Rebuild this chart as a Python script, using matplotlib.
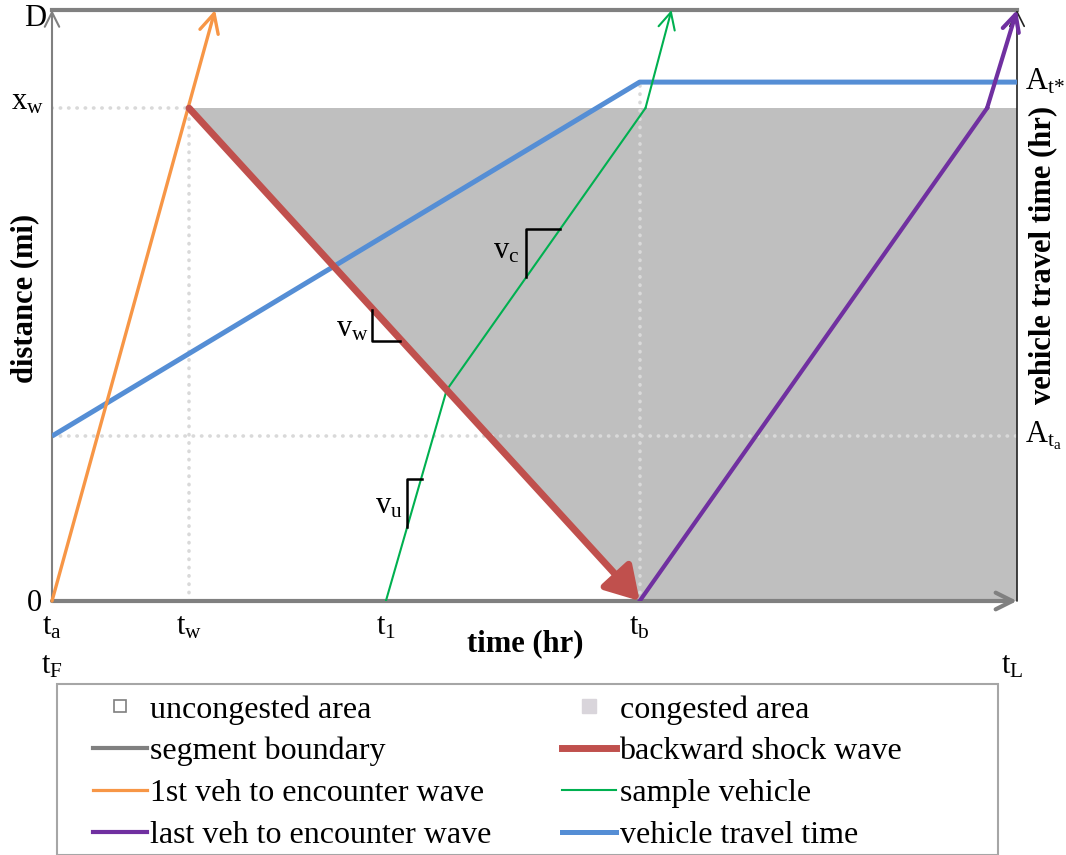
import matplotlib
matplotlib.use('Agg')
import matplotlib.pyplot as plt
from matplotlib.lines import Line2D
from matplotlib.patches import Rectangle

plt.rcParams.update({'font.family': 'Liberation Serif', 'mathtext.fontset': 'custom',
                     'mathtext.rm': 'Liberation Serif', 'mathtext.it': 'Liberation Serif',
                     'mathtext.bf': 'Liberation Serif:bold'})

GRAY = '#808080'; ORG = '#F79646'; RED = '#C0504D'; GRN = '#00B050'
PUR = '#7030A0'; BLU = '#558ED5'; CONG = '#BFBFBF'; DOT = '#D9D9D9'

# key times / distances (t_a = 0, t_L = 10, D = 10)
t_w, t_1, t_b, t_L = 1.42, 3.46, 6.09, 10.0
x_w, D = 8.34, 10.0
A_ta, A_tstar = 2.79, 8.78

# trajectories
first_t = [0.0, 1.69];               first_d = [0.0, 10.0]
sample_t = [3.46, 4.09, 6.15, 6.42]; sample_d = [0.0, 3.57, 8.34, 10.0]
last_t = [6.09, 9.69, 10.0];         last_d = [0.0, 8.34, 10.0]
shock_t = [1.42, 6.09];              shock_d = [8.34, 0.0]
travel_t = [0.0, 6.09, 10.0];        travel_d = [2.79, 8.78, 8.78]
cong_t = [1.42, 10.0, 10.0, 6.09];   cong_d = [8.34, 8.34, 0.0, 0.0]

W, H = 1066, 855
fig = plt.figure(figsize=(W/100, H/100), dpi=100)
ax = fig.add_axes([52/W, 254/H, 965/W, 591/H])
ax.set_xlim(0, 10); ax.set_ylim(0, 10); ax.axis('off')

# congested area
ax.fill(cong_t, cong_d, color=CONG, lw=0, zorder=1)

# dotted guides
dk = dict(color=DOT, ls=(0, (0.1, 2.2)), lw=2.6, dash_capstyle='round', zorder=2)
ax.plot([0, t_w], [x_w, x_w], **dk)
ax.plot([t_w, t_w], [0, x_w], **dk)
ax.plot([t_b, t_b], [0, A_tstar], **dk)
ax.plot([0, t_L], [A_ta, A_ta], **dk)

# segment boundaries
ax.plot([0, 10], [D, D], color=GRAY, lw=3, zorder=3, clip_on=False)
ax.annotate('', xy=(10.0, 0), xytext=(0, 0),
            arrowprops=dict(arrowstyle='->', color=GRAY, lw=3, mutation_scale=30, shrinkA=0, shrinkB=0), zorder=3)
ax.annotate('', xy=(0, 10.0), xytext=(0, 0),
            arrowprops=dict(arrowstyle='->', color=GRAY, lw=1.5, mutation_scale=26, shrinkA=0, shrinkB=0), zorder=3)
ax.annotate('', xy=(10.0, 10.0), xytext=(10.0, 0),
            arrowprops=dict(arrowstyle='->', color='#222222', lw=1.2, mutation_scale=26, shrinkA=0, shrinkB=0), zorder=3)

# travel time line
ax.plot(travel_t, travel_d, color=BLU, lw=3.6, zorder=4, solid_capstyle='butt')

# vehicle trajectories with arrow heads on the last segment
def traj(ts, ds, c, lw, ms):
    if len(ts) > 2:
        ax.plot(ts[:-1], ds[:-1], color=c, lw=lw, zorder=5, solid_joinstyle='miter')
    ax.annotate('', xy=(ts[-1], ds[-1]), xytext=(ts[-2], ds[-2]),
                arrowprops=dict(arrowstyle='->', color=c, lw=lw, mutation_scale=ms, shrinkA=0, shrinkB=0), zorder=5)

traj(first_t, first_d, ORG, 2.4, 34)
traj(sample_t, sample_d, GRN, 1.5, 30)
traj(last_t, last_d, PUR, 3.0, 30)

# backward shock wave
ax.annotate('', xy=(shock_t[1], shock_d[1]), xytext=(shock_t[0], shock_d[0]),
            arrowprops=dict(arrowstyle='-|>,head_length=0.5,head_width=0.3', color=RED, lw=5,
                            mutation_scale=40, shrinkA=0, shrinkB=0), zorder=6)

# slope triangles
sk = dict(color='black', lw=1.8, zorder=7)
ax.plot([4.91, 4.91, 5.26], [5.48, 6.29, 6.29], **sk)
ax.plot([3.32, 3.32, 3.61], [4.92, 4.40, 4.40], **sk)
ax.plot([3.68, 3.68, 3.83], [1.25, 2.06, 2.06], **sk)

fs = 22
tk = dict(fontsize=fs, clip_on=False)
ax.text(4.84, 5.92, r'$\mathrm{v_c}$', ha='right', va='center', **tk)
ax.text(3.28, 4.60, r'$\mathrm{v_w}$', ha='right', va='center', **tk)
ax.text(3.64, 1.60, r'$\mathrm{v_u}$', ha='right', va='center', **tk)

# axis annotations
ax.text(-0.06, 9.85, 'D', ha='right', va='center', **tk)
ax.text(-0.08, 8.45, r'$\mathrm{x_w}$', ha='right', va='center', **tk)
ax.text(-0.1, -0.05, '0', ha='right', va='center', **tk)
for lab, t in [('t_a', 0.0), ('t_w', t_w), ('t_1', t_1), ('t_b', t_b)]:
    ax.text(t, -0.2, r'$\mathrm{%s}$' % lab, ha='center', va='top', **tk)
ax.text(0.0, -0.85, r'$\mathrm{t_F}$', ha='center', va='top', **tk)
ax.text(9.95, -0.85, r'$\mathrm{t_L}$', ha='center', va='top', **tk)
ax.text(4.9, -0.47, 'time (hr)', ha='center', va='top', fontweight='bold', **tk)
ax.text(10.08, A_tstar, r'$\mathrm{A_{t{*}}}$', ha='left', va='center', **tk)
ax.text(10.08, A_ta, r'$\mathrm{A_{t_a}}$', ha='left', va='center', **tk)
fig.text(25/W, 1 - 298/H, 'distance (mi)', rotation=90, ha='center', va='center',
         fontsize=fs, fontweight='bold')
fig.text(1043/W, 1 - 255/H, 'vehicle travel time (hr)', rotation=90, ha='center', va='center',
         fontsize=fs, fontweight='bold')

# legend: frame + two single-column legends
fig.patches.append(Rectangle((57/W, 0), 941/W, 171/H, transform=fig.transFigure,
                             fill=False, ec='#A6A6A6', lw=1.5))
h1 = [Line2D([], [], marker='s', ls='none', mfc='white', mec='#7f7f7f', mew=1.2, ms=9),
      Line2D([], [], color=GRAY, lw=3),
      Line2D([], [], color=ORG, lw=2.3),
      Line2D([], [], color=PUR, lw=3)]
l1 = ['uncongested area', 'segment boundary', '1st veh to encounter wave', 'last veh to encounter wave']
h2 = [Line2D([], [], marker='s', ls='none', mfc='#D9D5DB', mec='#D9D5DB', ms=10),
      Line2D([], [], color=RED, lw=5),
      Line2D([], [], color=GRN, lw=1.5),
      Line2D([], [], color=BLU, lw=3.6)]
l2 = ['congested area', 'backward shock wave', 'sample vehicle', 'vehicle travel time']
lk = dict(loc='upper left', fontsize=23, frameon=False, handlelength=1.7, handletextpad=0.1,
          labelspacing=0.39, borderpad=0, borderaxespad=0)
fig.legend(h1, l1, bbox_to_anchor=(93/W, 1 - 695/H), **lk)
fig.legend(h2, l2, bbox_to_anchor=(562/W, 1 - 695/H), **lk)

fig.savefig('out.png', dpi=100)
